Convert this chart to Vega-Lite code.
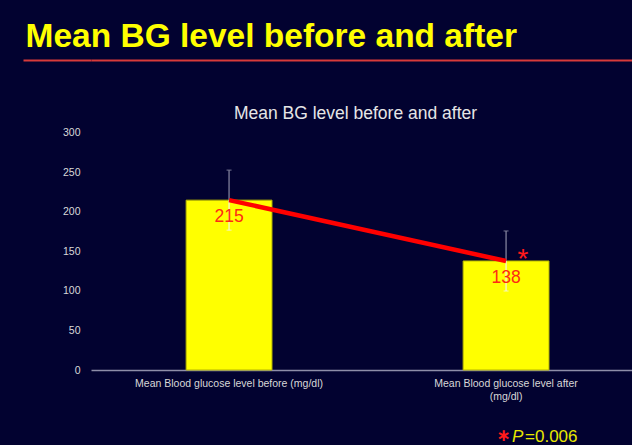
{
  "$schema": "https://vega.github.io/schema/vega-lite/v6.json",
  "width": 541,
  "height": 310,
  "autosize": "none",
  "padding": {"left": 91, "top": 60, "right": 0, "bottom": 75},
  "background": "#020230",
  "config": {
    "view": {"stroke": null},
    "font": "Liberation Sans",
    "text": {"font": "Liberation Sans"}
  },
  "data": {
    "values": [
      {"label": "Mean Blood glucose level before (mg/dl)", "mean": 215, "lo": 177, "hi": 253},
      {"label": "Mean Blood glucose level after (mg/dl)", "mean": 138, "lo": 100, "hi": 176}
    ]
  },
  "encoding": {
    "x": {
      "field": "label",
      "type": "nominal",
      "sort": null,
      "scale": {"paddingInner": 0.69, "paddingOuter": 0.3215, "align": 0.534},
      "axis": {
        "title": "Mean BG level before and after",
        "titleColor": "#e6e6e6",
        "titleFont": "Liberation Sans",
        "titleFontSize": 17.5,
        "titleFontWeight": "normal",
        "titleX": 264,
        "titleY": -257,
        "titleAlign": "center",
        "titleBaseline": "middle",
        "titleAngle": 0,
        "domain": true,
        "domainColor": "#8e8ea8",
        "domainWidth": 1.5,
        "ticks": false,
        "labelAngle": 0,
        "labelColor": "#d8d8d8",
        "labelFont": "Liberation Sans",
        "labelFontSize": 10.5,
        "labelPadding": 8,
        "labelLimit": 0,
        "labelLineHeight": 13,
        "labelBaseline": "top",
        "labelExpr": "datum.value == 'Mean Blood glucose level after (mg/dl)' ? ['Mean Blood glucose level after', '(mg/dl)'] : datum.value"
      }
    }
  },
  "layer": [
    {
      "mark": {"type": "bar", "color": "#ffff00", "stroke": "#b4b400", "strokeWidth": 1},
      "encoding": {
        "y": {
          "field": "mean",
          "type": "quantitative",
          "scale": {"domain": [0, 392.4], "nice": false},
          "axis": {
            "values": [0, 50, 100, 150, 200, 250, 300, 392.4],
            "tickCount": 12,
            "labelOverlap": false,
            "title": "Mean BG level before and after",
            "titleColor": "#ffff00",
            "titleFont": "Liberation Sans",
            "titleFontSize": 33.5,
            "titleFontWeight": "bold",
            "titleAngle": 0,
            "titleAlign": "left",
            "titleBaseline": "alphabetic",
            "titleX": -66,
            "titleY": -14,
            "domain": false,
            "grid": true,
            "gridWidth": 2,
            "gridColor": {"condition": {"test": "datum.value > 300", "value": "#d83a3a"}, "value": "transparent"},
            "ticks": true,
            "tickSize": 68,
            "tickWidth": 2,
            "tickColor": {"condition": {"test": "datum.value > 300", "value": "#d83a3a"}, "value": "transparent"},
            "labelPadding": -57,
            "labelExpr": "datum.value > 300 ? '' : datum.label",
            "labelColor": "#d8d8d8",
            "labelFont": "Liberation Sans",
            "labelFontSize": 10.5
          }
        }
      }
    },
    {
      "mark": {"type": "rule", "color": "#8c8ca4", "strokeWidth": 1.2},
      "encoding": {
        "y": {"field": "mean", "type": "quantitative", "scale": {"domain": [0, 392.4], "nice": false}},
        "y2": {"field": "hi"}
      }
    },
    {
      "mark": {"type": "tick", "color": "#8c8ca4", "thickness": 1.2, "size": 5},
      "encoding": {
        "y": {"field": "hi", "type": "quantitative", "scale": {"domain": [0, 392.4], "nice": false}}
      }
    },
    {
      "mark": {"type": "rule", "color": "#f4f4dc", "strokeWidth": 1.2},
      "encoding": {
        "y": {"field": "lo", "type": "quantitative", "scale": {"domain": [0, 392.4], "nice": false}},
        "y2": {"field": "mean"}
      }
    },
    {
      "mark": {"type": "tick", "color": "#f4f4dc", "thickness": 1.2, "size": 5},
      "encoding": {
        "y": {"field": "lo", "type": "quantitative", "scale": {"domain": [0, 392.4], "nice": false}}
      }
    },
    {
      "mark": {"type": "line", "color": "#ff0000", "strokeWidth": 4.5},
      "encoding": {
        "y": {"field": "mean", "type": "quantitative", "scale": {"domain": [0, 392.4], "nice": false}}
      }
    },
    {
      "mark": {"type": "text", "color": "#ff2a14", "fontSize": 17.5, "baseline": "alphabetic", "align": "center", "dy": 22},
      "encoding": {
        "y": {"field": "mean", "type": "quantitative", "scale": {"domain": [0, 392.4], "nice": false}},
        "text": {"field": "mean", "type": "quantitative"}
      }
    },
    {
      "data": {"values": [{"note": "*"}]},
      "mark": {"type": "text", "color": "#ff1a1a", "fontSize": 28, "baseline": "alphabetic", "align": "center", "xOffset": 17},
      "encoding": {
        "x": {"datum": "Mean Blood glucose level after (mg/dl)", "type": "nominal"},
        "y": {"datum": 129, "type": "quantitative", "scale": {"domain": [0, 392.4], "nice": false}},
        "text": {"field": "note"}
      }
    },
    {
      "data": {"values": [{"note": "∗"}]},
      "mark": {"type": "text", "color": "#ff1a1a", "font": "DejaVu Sans", "fontWeight": "bold", "fontSize": 17, "baseline": "middle", "align": "center", "xOffset": -2.5, "dy": 0},
      "encoding": {
        "x": {"datum": "Mean Blood glucose level after (mg/dl)", "type": "nominal"},
        "y": {"datum": -83.5, "type": "quantitative", "scale": {"domain": [0, 392.4], "nice": false}},
        "text": {"field": "note"}
      }
    },
    {
      "data": {"values": [{"note": "P"}]},
      "mark": {"type": "text", "color": "#e8e800", "fontSize": 17, "fontStyle": "italic", "baseline": "alphabetic", "align": "left", "xOffset": 6},
      "encoding": {
        "x": {"datum": "Mean Blood glucose level after (mg/dl)", "type": "nominal"},
        "y": {"datum": -91.1, "type": "quantitative", "scale": {"domain": [0, 392.4], "nice": false}},
        "text": {"field": "note"}
      }
    },
    {
      "data": {"values": [{"note": "=0.006"}]},
      "mark": {"type": "text", "color": "#e8e800", "fontSize": 17, "baseline": "alphabetic", "align": "left", "xOffset": 19},
      "encoding": {
        "x": {"datum": "Mean Blood glucose level after (mg/dl)", "type": "nominal"},
        "y": {"datum": -91.1, "type": "quantitative", "scale": {"domain": [0, 392.4], "nice": false}},
        "text": {"field": "note"}
      }
    }
  ]
}
